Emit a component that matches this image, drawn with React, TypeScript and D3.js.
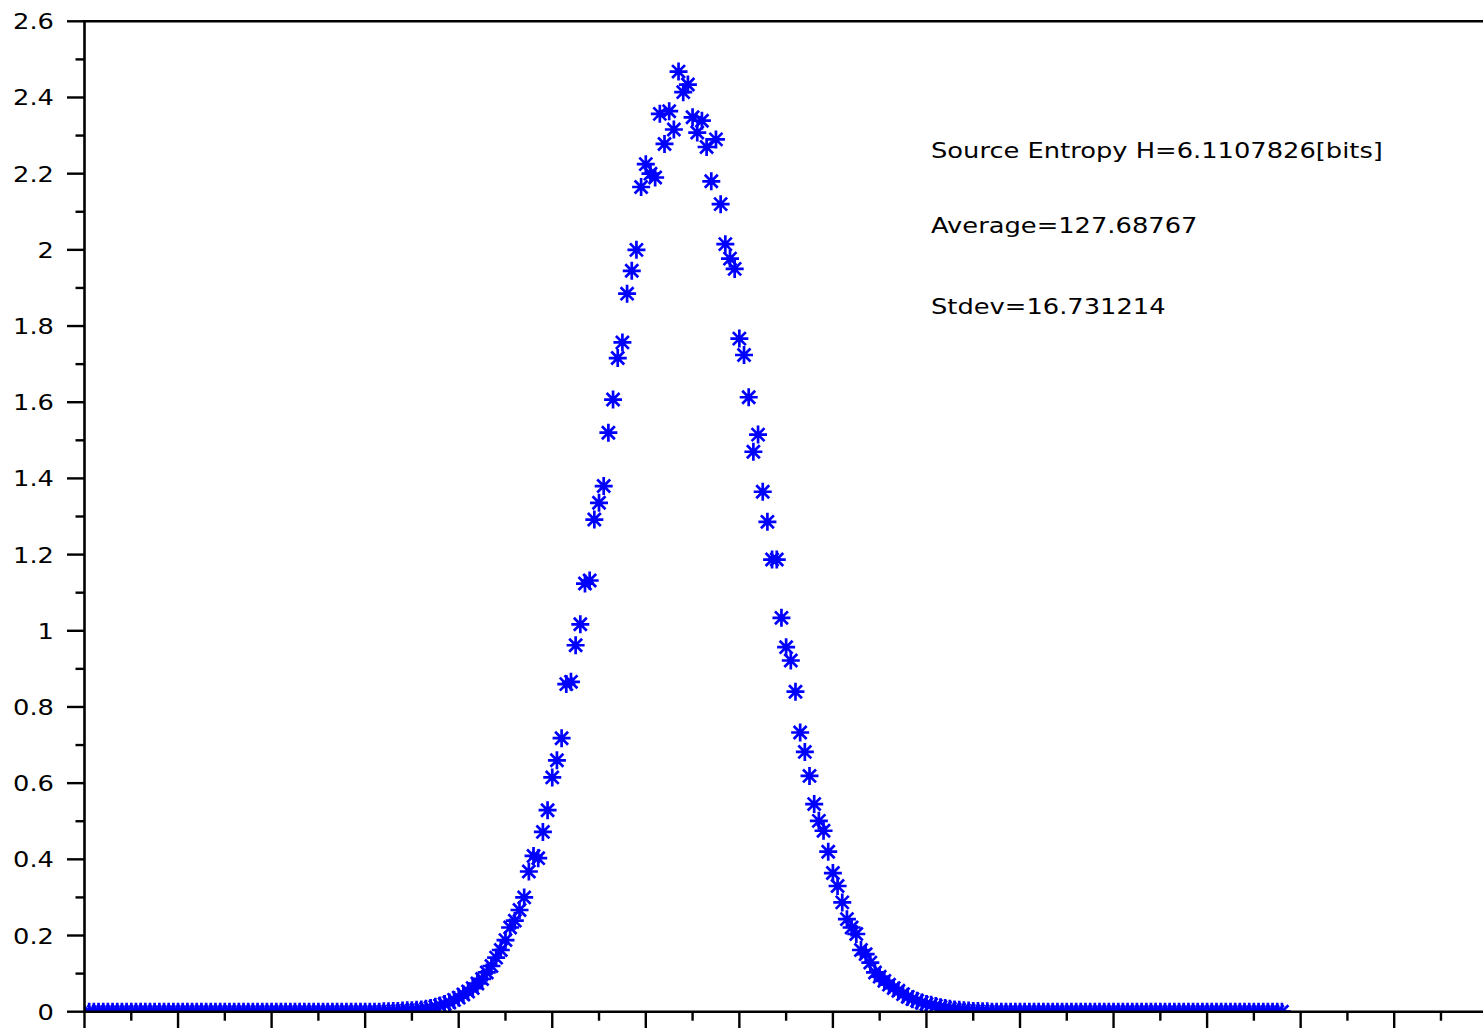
import * as d3 from 'd3';
import React from 'react';

// histogram of the source, in percent, one value per level (1..256)
const binValues = [
    0, 0, 0, 0, 0, 0, 0, 0, 0, 0, 0, 0, 0, 0, 0, 0,
    0, 0, 0, 0, 0, 0, 0, 0, 0, 0, 0, 0, 0, 0, 0, 0,
    0, 0, 0, 0, 0, 0, 0, 0, 0, 0, 0, 0, 0, 0, 0, 0,
    0, 0, 0, 0, 0, 0, 0, 0, 0, 0, 0, 0, 0, 0, 0, 0.001,
    0.001, 0.002, 0.002, 0.003, 0.004, 0.004, 0.005, 0.006, 0.008, 0.010, 0.013, 0.016, 0.020, 0.024, 0.031, 0.037,
    0.045, 0.053, 0.062, 0.074, 0.086, 0.103, 0.120, 0.142, 0.162, 0.188, 0.221, 0.239, 0.267, 0.300, 0.368, 0.409,
    0.403, 0.472, 0.529, 0.615, 0.660, 0.718, 0.860, 0.866, 0.962, 1.017, 1.124, 1.132, 1.292, 1.336, 1.380, 1.520,
    1.607, 1.716, 1.757, 1.885, 1.945, 2.000, 2.165, 2.225, 2.200, 2.190, 2.357, 2.278, 2.364, 2.316, 2.468, 2.414,
    2.434, 2.348, 2.308, 2.339, 2.270, 2.180, 2.290, 2.120, 2.015, 1.977, 1.950, 1.767, 1.724, 1.613, 1.470, 1.515,
    1.365, 1.286, 1.187, 1.187, 1.034, 0.957, 0.922, 0.840, 0.733, 0.682, 0.619, 0.545, 0.501, 0.475, 0.420, 0.364,
    0.330, 0.287, 0.243, 0.221, 0.204, 0.162, 0.151, 0.129, 0.103, 0.092, 0.081, 0.071, 0.062, 0.055, 0.046, 0.039,
    0.033, 0.029, 0.024, 0.020, 0.018, 0.015, 0.012, 0.010, 0.008, 0.006, 0.005, 0.004, 0.003, 0.002, 0.002, 0.001,
    0.001, 0, 0, 0, 0, 0, 0, 0, 0, 0, 0, 0, 0, 0, 0, 0,
    0, 0, 0, 0, 0, 0, 0, 0, 0, 0, 0, 0, 0, 0, 0, 0,
    0, 0, 0, 0, 0, 0, 0, 0, 0, 0, 0, 0, 0, 0, 0, 0,
    0, 0, 0, 0, 0, 0, 0, 0, 0, 0, 0, 0, 0, 0, 0, 0,
];

const yTickLabels = ['0', '0.2', '0.4', '0.6', '0.8', '1', '1.2', '1.4', '1.6', '1.8', '2', '2.2', '2.4', '2.6'];

const legendLines = [
    'Source Entropy H=6.1107826[bits]',
    'Average=127.68767',
    'Stdev=16.731214',
];

const params = {
    width: 1483,
    height: 1028,
    left: 84.5,
    top: 21.3,
    bottom: 1011.7,
    pxPerUnit: 4.6775,
    markerR: 9,
    font: 'DejaVu Sans',
    fontSize: 22,
    stretch: 1.17, // text in the picture is wider than the font
};

const legendBaselines = [158, 233, 314];

export default function App() {
    const x = d3.scaleLinear()
        .domain([0, 300])
        .range([params.left, params.left + 300 * params.pxPerUnit]);
    const y = d3.scaleLinear()
        .domain([0, 2.6])
        .range([params.bottom, params.top]);

    const yTicks = d3.range(0, 27).map(k => k / 10);
    const xTicks = x.ticks(30);

    const r = params.markerR, dg = r * 0.72;
    const star = `M${-r},0H${r}M0,${-r}V${r}M${-dg},${-dg}L${dg},${dg}M${-dg},${dg}L${dg},${-dg}`;

    return (
        <div style={{position: 'absolute', left: 0, top: 0}}>
            <svg width={params.width} height={params.height} style={{display: 'block', background: '#fff'}}>
                <defs>
                    <clipPath id="plotArea">
                        <rect x={params.left} y={params.top} width={params.width} height={params.bottom - params.top} />
                    </clipPath>
                </defs>

                <g clipPath="url(#plotArea)">
                    {binValues.map((v, i) => (
                        <path key={i} d={star} transform={`translate(${x(i + 1)},${y(v)})`}
                            stroke="#0000ff" strokeWidth={2.7} fill="none" />
                    ))}
                </g>

                {/* axes box: left, top and bottom lines */}
                <g stroke="#000" strokeWidth={2.6} fill="none">
                    <line x1={params.left} x2={params.left} y1={params.top - 1.3} y2={params.bottom + 1.3} />
                    <line x1={params.left} x2={params.width} y1={params.top} y2={params.top} />
                    <line x1={params.left} x2={params.width} y1={params.bottom} y2={params.bottom} />
                </g>

                {/* y ticks */}
                <g stroke="#000" strokeWidth={2.4}>
                    {yTicks.map((t, k) => (
                        <line key={k} x1={params.left - (k % 2 === 0 ? 17.5 : 9)} x2={params.left}
                            y1={y(t)} y2={y(t)} />
                    ))}
                </g>
                <g fontFamily={params.font} fontSize={params.fontSize} fill="#000" textAnchor="end">
                    {yTickLabels.map((lab, k) => (
                        <text key={lab} transform={`translate(54,${y(k * 0.2) + 8}) scale(${params.stretch},1)`}>{lab}</text>
                    ))}
                </g>

                {/* x ticks, labels fall below the picture */}
                <g stroke="#000" strokeWidth={2.4}>
                    {xTicks.map(t => (
                        <line key={t} x1={x(t)} x2={x(t)} y1={params.bottom}
                            y2={params.bottom + (t % 20 === 0 ? 17 : 9)} />
                    ))}
                </g>

                <g fontFamily={params.font} fontSize={params.fontSize} fill="#000">
                    {legendLines.map((s, k) => (
                        <text key={s} transform={`translate(931,${legendBaselines[k]}) scale(${params.stretch},1)`}>{s}</text>
                    ))}
                </g>
            </svg>
        </div>
    );
}
